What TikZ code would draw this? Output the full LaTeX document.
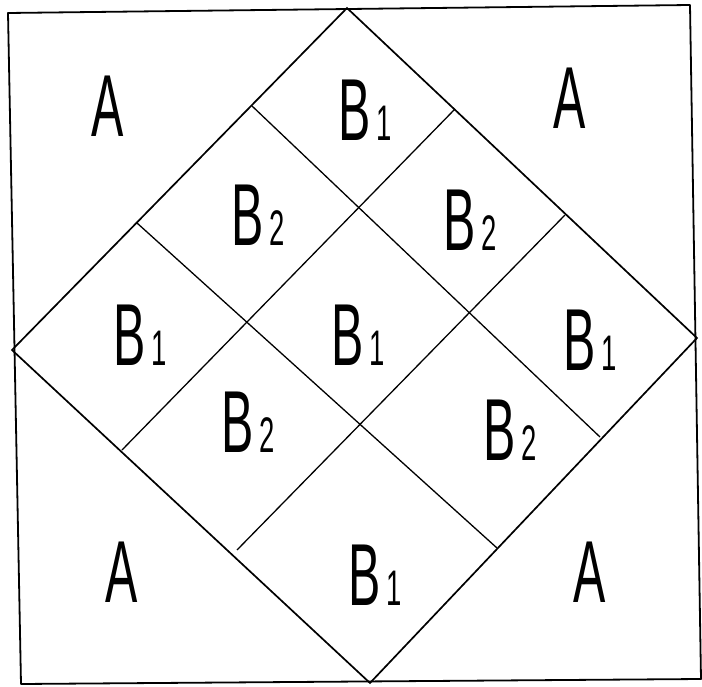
\documentclass[tikz,border=0pt]{standalone}
\usepackage{fontspec}
\setmainfont{Liberation Sans}
\newcommand{\hw}[1]{\scalebox{0.55}[1]{\fontsize{88}{88}\selectfont #1}}
\newcommand{\hwB}[1]{\scalebox{0.55}[1]{\fontsize{88}{88}\selectfont B\hspace{0.12em}{\fontsize{50}{50}\selectfont #1}}}
\begin{document}
\begin{tikzpicture}[x=1pt,y=-1pt,
  frame/.style={line width=1.8pt,line join=round},
  edge/.style={line width=1.7pt,line join=miter},
  grid/.style={line width=1.3pt},
  lbl/.style={inner sep=0pt,anchor=center}]
\useasboundingbox (0,0) rectangle (702,687);
% outer square
\coordinate (sq1) at (8,13);
\coordinate (sq2) at (690,5);
\coordinate (sq3) at (701,679);
\coordinate (sq4) at (21,684);
\draw[frame] (sq1) -- (sq2) -- (sq3) -- (sq4) -- cycle;
% diamond
\coordinate (T) at (347,8);
\coordinate (R) at (697,338);
\coordinate (B) at (370,683);
\coordinate (L) at (12,350);
\draw[edge] (T) -- (R) -- (B) -- (L) -- cycle;
% grid lines
\coordinate (a1) at (252,106);
\coordinate (a2) at (600,437);
\coordinate (b1) at (137,223);
\coordinate (b2) at (497,548);
\coordinate (c1) at (455,109);
\coordinate (c2) at (122,450);
\coordinate (d1) at (565,215);
\coordinate (d2) at (237,550);
\draw[grid] (a1) -- (a2);
\draw[grid] (b1) -- (b2);
\draw[grid] (c1) -- (c2);
\draw[grid] (d1) -- (d2);
% labels
\node[lbl] (A1) at (108,106) {\hw{A}};
\node[lbl] (A2) at (570,98) {\hw{A}};
\node[lbl] (A3) at (122,572) {\hw{A}};
\node[lbl] (A4) at (590,572) {\hw{A}};
\node[lbl] (B1t) at (365,110) {\hwB{1}};
\node[lbl] (B2l) at (258,215) {\hwB{2}};
\node[lbl] (B2r) at (470,220) {\hwB{2}};
\node[lbl] (B1l) at (140,335) {\hwB{1}};
\node[lbl] (B1c) at (358,335) {\hwB{1}};
\node[lbl] (B1r) at (590,340) {\hwB{1}};
\node[lbl] (B2bl) at (248,422) {\hwB{2}};
\node[lbl] (B2br) at (510,430) {\hwB{2}};
\node[lbl] (B1b) at (375,575) {\hwB{1}};
\end{tikzpicture}
\end{document}
